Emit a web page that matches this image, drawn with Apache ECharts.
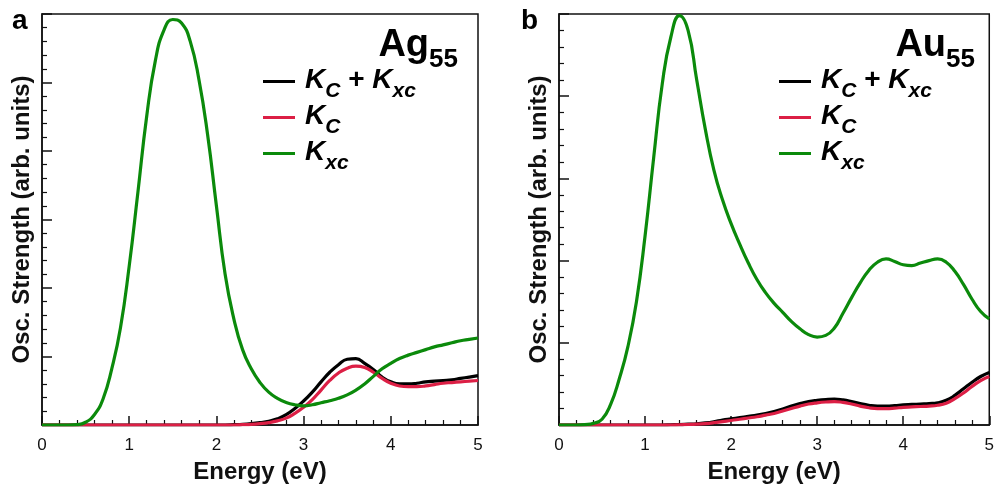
<!DOCTYPE html>
<html>
<head>
<meta charset="utf-8">
<script src="https://cdn.jsdelivr.net/npm/echarts@6/dist/echarts.min.js"></script>
<style>
  html, body { margin: 0; padding: 0; background: #fff; }
  #chart { width: 997px; height: 489px; }
</style>
</head>
<body>
<div id="chart"></div>
<script>
// Energy grid (eV)
const energy = [0.0,0.1,0.2,0.3,0.4,0.5,0.6,0.7,0.8,0.9,1.0,1.1,1.2,1.3,1.4,1.5,1.6,1.7,1.8,1.9,2.0,2.1,2.2,2.3,2.4,2.5,2.6,2.7,2.8,2.9,3.0,3.1,3.2,3.3,3.4,3.5,3.6,3.7,3.8,3.9,4.0,4.1,4.2,4.3,4.4,4.5,4.6,4.7,4.8,4.9,5.0];
const xTicks = [0, 1, 2, 3, 4, 5];

// Panel a: Ag55
const agSum = [0,0,0,0,0,0,0,0,0,0,0,0,0,0,0,0,0,0,0,0,0,0,0.005,0.01,0.02,0.035,0.055,0.09,0.15,0.24,0.35,0.48,0.63,0.77,0.88,0.96,0.97,0.9,0.81,0.7,0.63,0.6,0.6,0.61,0.63,0.64,0.65,0.66,0.68,0.7,0.72];
const agKc = [0,0,0,0,0,0,0,0,0,0,0,0,0,0,0,0,0,0,0,0,0,0,0,0.005,0.01,0.02,0.035,0.06,0.1,0.17,0.26,0.37,0.51,0.65,0.76,0.83,0.86,0.84,0.77,0.68,0.61,0.57,0.56,0.56,0.57,0.59,0.61,0.62,0.63,0.64,0.65];
const agKxc = [0,0,0,0,0.005,0.04,0.15,0.38,0.82,1.42,2.32,3.4,4.5,5.32,5.77,5.92,5.87,5.6,5.04,4.23,3.2,2.2,1.55,1.1,0.82,0.62,0.48,0.39,0.33,0.295,0.28,0.295,0.325,0.355,0.39,0.44,0.51,0.6,0.71,0.82,0.9,0.97,1.02,1.06,1.1,1.14,1.17,1.2,1.23,1.25,1.27];

// Panel b: Au55
const auSum = [0,0,0,0,0,0,0,0,0,0,0,0,0,0.003,0.005,0.01,0.015,0.025,0.04,0.06,0.075,0.09,0.105,0.12,0.14,0.165,0.195,0.23,0.26,0.285,0.3,0.31,0.315,0.305,0.285,0.26,0.24,0.23,0.23,0.235,0.245,0.25,0.255,0.26,0.27,0.3,0.36,0.44,0.52,0.59,0.64];
const auKc = [0,0,0,0,0,0,0,0,0,0,0,0,0,0,0.003,0.006,0.01,0.017,0.028,0.042,0.055,0.07,0.085,0.1,0.12,0.14,0.17,0.2,0.23,0.255,0.27,0.28,0.285,0.275,0.255,0.23,0.21,0.2,0.2,0.205,0.215,0.22,0.225,0.23,0.24,0.265,0.32,0.39,0.47,0.54,0.59];
const auKxc = [0,0,0,0.005,0.02,0.07,0.25,0.56,0.95,1.5,2.3,3.25,4.15,4.72,4.98,4.8,4.2,3.6,3.1,2.74,2.45,2.2,1.97,1.77,1.61,1.48,1.37,1.26,1.17,1.1,1.07,1.09,1.18,1.36,1.55,1.73,1.88,1.98,2.02,1.99,1.95,1.94,1.97,2.0,2.02,1.98,1.87,1.71,1.53,1.38,1.29];

const seriesNames = ['sum', 'kc', 'kxc'];
const seriesColors = ['#000000', '#dc1f45', '#0b8a0b'];
const legendText = {
  sum: '{k0|K}{s|C}{p| + }{k|K}{s|xc}',
  kc: '{k0|K}{s|C}',
  kxc: '{k0|K}{s|xc}'
};

const FONT = 'Liberation Sans, Arial, Helvetica, sans-serif';

function pairs(ys) { return energy.map((x, i) => [x, ys[i]]); }

function xAxisCfg(gi) {
  return {
    type: 'value', gridIndex: gi, min: 0, max: 5, interval: 1,
    axisLine: { show: true, lineStyle: { color: '#111', width: 1.5 } },
    axisTick: { show: true, inside: true, length: 9, lineStyle: { color: '#111', width: 1.5 } },
    minorTick: { show: true, splitNumber: 5, length: 5, lineStyle: { color: '#111', width: 1.2 } },
    splitLine: { show: false },
    axisLabel: { show: true, fontSize: 17, color: '#111', margin: 12, fontFamily: FONT,
      formatter: v => xTicks.indexOf(v) >= 0 ? String(v) : '' },
    name: 'Energy (eV)', nameLocation: 'middle', nameGap: 35,
    nameTextStyle: { fontSize: 24, fontWeight: 'bold', color: '#111', fontFamily: FONT }
  };
}
function yAxisCfg(gi, max) {
  return {
    type: 'value', gridIndex: gi, min: 0, max: max, interval: 1,
    axisLine: { show: true, lineStyle: { color: '#111', width: 1.5 } },
    axisTick: { show: true, inside: true, length: 10, lineStyle: { color: '#111', width: 1.5 } },
    minorTick: { show: true, splitNumber: 5, length: 5, lineStyle: { color: '#111', width: 1.2 } },
    splitLine: { show: false },
    axisLabel: { show: false },
    name: 'Osc. Strength (arb. units)', nameLocation: 'middle', nameGap: 8,
    nameTextStyle: { fontSize: 24, fontWeight: 'bold', color: '#111', fontFamily: FONT }
  };
}

const richLegend = {
  k0: { fontSize: 28, fontWeight: 'bold', fontStyle: 'italic', fontFamily: FONT, color: '#000', verticalAlign: 'bottom', padding: [5, 0, 8, 5] },
  k: { fontSize: 28, fontWeight: 'bold', fontStyle: 'italic', fontFamily: FONT, color: '#000', verticalAlign: 'bottom', padding: [5, 0, 8, 0] },
  p: { fontSize: 28, fontWeight: 'bold', fontFamily: FONT, color: '#000', verticalAlign: 'bottom', padding: [5, 0, 8, 0] },
  s: { fontSize: 21, fontWeight: 'bold', fontStyle: 'italic', fontFamily: FONT, color: '#000', verticalAlign: 'bottom' }
};
function legendCfg(left) {
  return {
    orient: 'vertical', left: left, top: 66, padding: 0,
    itemWidth: 32, itemHeight: 3, itemGap: 0, icon: 'rect',
    selectedMode: false,
    data: seriesNames,
    formatter: name => legendText[name],
    textStyle: { rich: richLegend }
  };
}
const richTitle = {
  a: { fontSize: 38, fontWeight: 'bold', fontFamily: FONT, color: '#000', verticalAlign: 'bottom', padding: [0, 0, 8, 0] },
  s: { fontSize: 26, fontWeight: 'bold', fontFamily: FONT, color: '#000', verticalAlign: 'bottom' }
};

const series = [];
[[agSum, agKc, agKxc], [auSum, auKc, auKxc]].forEach((set, gi) => {
  set.forEach((ys, si) => {
    series.push({
      type: 'line', name: seriesNames[si], xAxisIndex: gi, yAxisIndex: gi,
      data: pairs(ys), showSymbol: false, smooth: 0.5,
      lineStyle: { width: 3.2, color: seriesColors[si] },
      itemStyle: { color: seriesColors[si] },
      emphasis: { disabled: true }
    });
  });
});

const chart = echarts.init(document.getElementById('chart'), null, { renderer: 'canvas' });
chart.setOption({
  animation: false,
  backgroundColor: '#fff',
  title: [
    { text: '{a|Ag}{s|55}', right: 539, top: 27, padding: 0, textStyle: { rich: richTitle } },
    { text: '{a|Au}{s|55}', right: 22, top: 27, padding: 0, textStyle: { rich: richTitle } },
    { text: 'a', left: 12, top: 7, padding: 0, textStyle: { fontSize: 28, fontWeight: 'bold', color: '#000', fontFamily: FONT } },
    { text: 'b', left: 521, top: 7, padding: 0, textStyle: { fontSize: 28, fontWeight: 'bold', color: '#000', fontFamily: FONT } }
  ],
  legend: [legendCfg(263), legendCfg(779)],
  grid: [
    { left: 42, top: 14, width: 436, height: 414, show: true, borderColor: '#111', borderWidth: 1.5, backgroundColor: 'transparent', containLabel: false },
    { left: 559, top: 14, width: 434, height: 414, show: true, borderColor: '#111', borderWidth: 1.5, backgroundColor: 'transparent', containLabel: false }
  ],
  xAxis: [xAxisCfg(0), xAxisCfg(1)],
  yAxis: [yAxisCfg(0, 6), yAxisCfg(1, 5)],
  series: series
});
</script>
</body>
</html>
